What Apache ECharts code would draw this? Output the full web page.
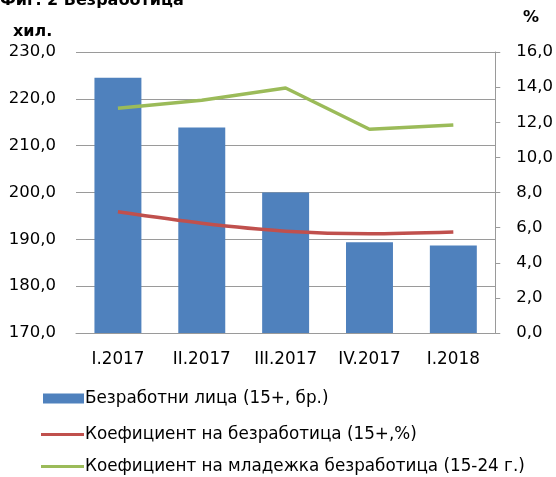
<!DOCTYPE html>
<html><head><meta charset="utf-8">
<script src="https://cdn.jsdelivr.net/npm/echarts@6/dist/echarts.min.js"></script>
<style>html,body{margin:0;padding:0;background:#fff}#c{width:556px;height:477px}</style>
</head><body><div id="c"></div>
<script>
const categories = ['I.2017', 'II.2017', 'III.2017', 'IV.2017', 'I.2018'];
const unemployed = [224.5, 213.9, 200.0, 189.4, 188.7];
const unemploymentRate = [6.9, 6.25, 5.8, 5.65, 5.75];
const youthRate = [12.8, 13.25, 13.95, 11.6, 11.85];
const leftTicks = [170, 230, 10];
const rightTicks = [0, 16, 2];
const names = ['Безработни лица (15+, бр.)', 'Коефициент на безработица (15+,%)', 'Коефициент на младежка безработица (15-24 г.)'];

const FONT = '"DejaVu Sans", "Open Sans", sans-serif';
const fmt = v => v.toFixed(1).replace('.', ',');
const chart = echarts.init(document.getElementById('c'));
const legendText = { fontSize: 16.8, color: '#000', fontFamily: FONT, padding: [0, 0, 0, -4] };
chart.setOption({
  animation: false,
  textStyle: { fontFamily: FONT },
  grid: { left: 76, right: 59, top: 52, bottom: 144 },
  graphic: [
    { type: 'text', left: 0, top: -7, style: { text: 'Фиг. 2 Безработица', font: 'bold 16px ' + FONT, fill: '#000' } },
    { type: 'text', left: 13, top: 24, style: { text: 'хил.', font: 'bold 16px ' + FONT, fill: '#000' } },
    { type: 'text', left: 523, top: 10, style: { text: '%', font: 'bold 16px ' + FONT, fill: '#000' } }
  ],
  xAxis: {
    type: 'category', data: categories,
    axisLine: { lineStyle: { color: '#9a9a9a', width: 1 } },
    axisTick: { show: false },
    axisLabel: { color: '#000', fontSize: 16.8, margin: 18, fontFamily: FONT }
  },
  yAxis: [
    { type: 'value', min: leftTicks[0], max: leftTicks[1], interval: leftTicks[2],
      axisLine: { show: false }, axisTick: { show: false },
      axisLabel: { color: '#000', fontSize: 16.5, margin: 20, formatter: fmt, fontFamily: FONT },
      splitLine: { lineStyle: { color: '#9a9a9a', width: 1 } } },
    { type: 'value', min: rightTicks[0], max: rightTicks[1], interval: rightTicks[2], position: 'right',
      axisLine: { show: true, lineStyle: { color: '#9a9a9a' } },
      axisTick: { show: true, length: 5, inside: false, lineStyle: { color: '#9a9a9a' } },
      axisLabel: { color: '#000', fontSize: 16.5, margin: 21, formatter: fmt, fontFamily: FONT },
      splitLine: { show: false } }
  ],
  legend: [
    { data: [{ name: names[0], icon: 'rect' }], orient: 'vertical', left: 38, top: 385, itemWidth: 41, itemHeight: 10,
      textStyle: legendText },
    { data: [{ name: names[1], icon: 'rect' }], orient: 'vertical', left: 36, top: 421, itemWidth: 43, itemHeight: 3,
      textStyle: legendText },
    { data: [{ name: names[2], icon: 'rect' }], orient: 'vertical', left: 36, top: 453, itemWidth: 43, itemHeight: 3,
      textStyle: legendText }
  ],
  series: [
    { name: names[0], type: 'bar', data: unemployed, barWidth: '56%', itemStyle: { color: '#4f81bd' } },
    { name: names[1], type: 'line', yAxisIndex: 1, data: unemploymentRate, smooth: 0.3, showSymbol: false,
      lineStyle: { color: '#c0504d', width: 3.5 }, itemStyle: { color: '#c0504d' } },
    { name: names[2], type: 'line', yAxisIndex: 1, data: youthRate, smooth: false, showSymbol: false,
      lineStyle: { color: '#9bbb59', width: 3.5 }, itemStyle: { color: '#9bbb59' } }
  ]
});
</script></body></html>
